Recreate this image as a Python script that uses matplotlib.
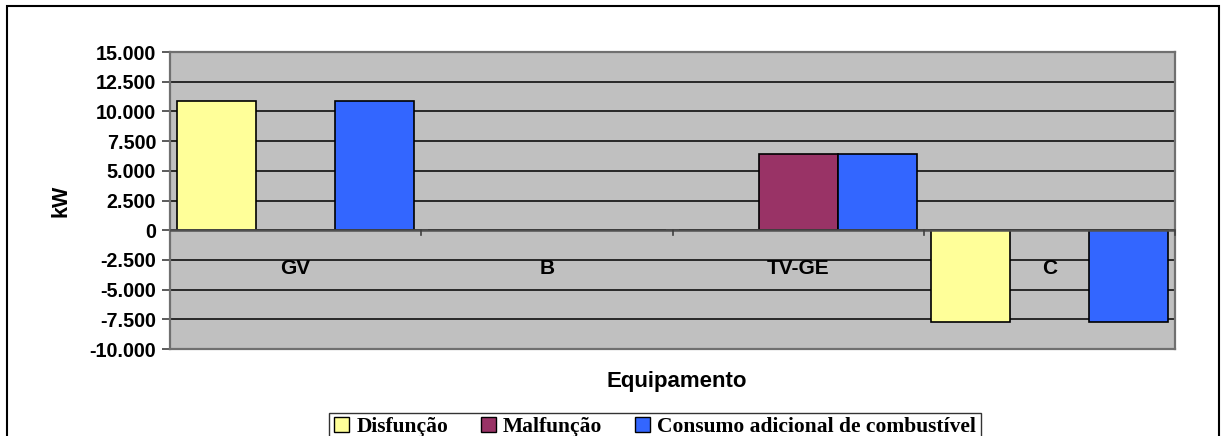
import matplotlib
matplotlib.use("Agg")
import matplotlib.pyplot as plt
from matplotlib.patches import Rectangle, Patch
import numpy as np

categories = ["GV", "B", "TV-GE", "C"]
series_names = ["Disfunção", "Malfunção", "Consumo adicional de combustível"]
disfuncao = [10900, 0, 0, -7700]
malfuncao = [0, 0, 6400, 0]
consumo = [10900, 0, 6400, -7700]
yticks = [-10000, -7500, -5000, -2500, 0, 2500, 5000, 7500, 10000, 12500, 15000]
ytick_labels = ["-10.000", "-7.500", "-5.000", "-2.500", "0", "2.500", "5.000",
                "7.500", "10.000", "12.500", "15.000"]
colors = ["#FFFF99", "#993366", "#3366FF"]

W, H = 1226, 436
fig = plt.figure(figsize=(W / 100, H / 100), dpi=100)
ax = fig.add_axes([170 / W, 1 - 349 / H, (1175 - 170) / W, (349 - 52) / H])
ax.set_facecolor("#C0C0C0")

x = np.arange(len(categories))
bw = 0.315
for k, (vals, c) in enumerate(zip([disfuncao, malfuncao, consumo], colors)):
    ax.bar(x + (k - 1) * bw, vals, width=bw, color=c, edgecolor="black",
           linewidth=1.2, zorder=3)

ax.set_xlim(-0.5, len(categories) - 0.5)
ax.set_ylim(-10000, 15000)
ax.set_yticks(yticks)
ax.set_yticklabels(ytick_labels, fontfamily="Liberation Sans", fontweight="bold",
                   fontsize=14.2)
ax.yaxis.grid(True, color="black", linewidth=1.1, zorder=0)
ax.set_axisbelow(True)
ax.tick_params(axis="y", length=6, width=1.2, color="#404040", pad=4)
ax.set_xticks([])
for s in ax.spines.values():
    s.set_color("#707070")
    s.set_linewidth(1.6)

# category axis at zero
ax.axhline(0, color="#505050", linewidth=1.8, zorder=4)
for b in np.arange(0.5, len(categories) - 0.5, 1.0).tolist() + [len(categories) - 0.5]:
    ax.plot([b, b], [0, -400], color="#404040", linewidth=1.2, zorder=4, clip_on=False)
for i, cat in enumerate(categories):
    ax.annotate(cat, xy=(i, 0), xytext=(0, -38), textcoords="offset pixels",
                ha="center", va="center", fontfamily="Liberation Sans",
                fontweight="bold", fontsize=15, zorder=5)

ax.set_ylabel("kW", fontfamily="Liberation Sans", fontweight="bold", fontsize=15.5,
              labelpad=13)
fig.text(677 / W, 1 - 381 / H, "Equipamento", ha="center", va="center",
         fontfamily="Liberation Sans", fontweight="bold", fontsize=16)

handles = [Patch(facecolor=c, edgecolor="black", linewidth=1.0) for c in colors]
leg = fig.legend(handles, series_names, loc="upper center",
                 bbox_to_anchor=(655 / W, 1 - 413 / H), ncol=3,
                 prop={"family": "Liberation Serif", "weight": "bold", "size": 15.5},
                 frameon=True, fancybox=False, edgecolor="black",
                 handlelength=0.7, handleheight=0.7, handletextpad=0.35,
                 columnspacing=1.5, borderpad=0.2, borderaxespad=0)
leg.get_frame().set_linewidth(1.0)

fig.patches.append(Rectangle((7 / W, -0.05), (1219 - 7) / W, 1.05 - 6 / H,
                             transform=fig.transFigure, fill=False,
                             edgecolor="black", linewidth=1.5))

fig.savefig("out.png", dpi=100)
